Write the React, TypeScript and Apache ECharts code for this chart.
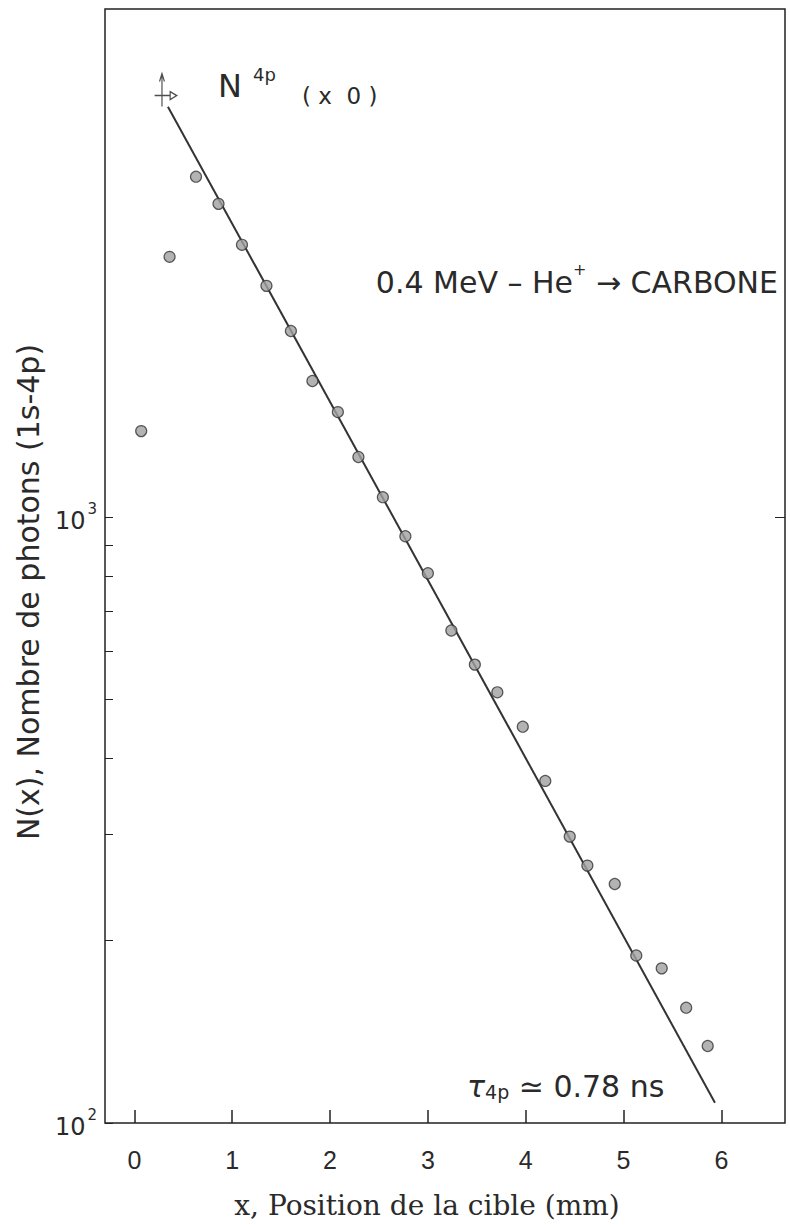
import React, { useEffect, useRef } from "react";
import * as echarts from "echarts";

// x tick values (mm) and y tick values (photon counts)
const xTicks = [0, 1, 2, 3, 4, 5, 6];
const yMajor = [100, 1000];
const yMinor = [200, 300, 400, 500, 600, 700, 800, 900];

// measured points: target position (mm) and photon count
const pointX = [0.07, 0.36, 0.63, 0.86, 1.1, 1.35, 1.6, 1.82, 2.08, 2.29, 2.54, 2.77, 3.0, 3.24, 3.48, 3.71, 3.97, 4.2, 4.45, 4.63, 4.91, 5.13, 5.39, 5.64, 5.86];
const pointY = [1387, 2690, 3648, 3290, 2816, 2409, 2029, 1678, 1491, 1257, 1079, 930, 808, 650, 571, 514, 451, 367, 297, 266, 248, 189, 180, 155, 134];

// fitted exponential decay (straight line on log axis)
const fitX = [0.343, 5.934];
const fitY = [4760, 108];

// N^4p(x0) origin marker
const originX = [0.32];
const originY = [5070];

const FONT = '"DejaVu Sans", sans-serif';
const INK = "#222";
const TXT = "#2a2a2a";

export default function App() {
  const ref = useRef<HTMLDivElement>(null);
  useEffect(() => {
    document.body.style.margin = "0";
    const chart = echarts.init(ref.current!, null, { renderer: "svg" });
    chart.setOption({
      animation: false,
      backgroundColor: "#fff",
      grid: {
        left: 105,
        right: 5,
        top: 9,
        bottom: 102,
        show: true,
        borderColor: INK,
        borderWidth: 1.5,
        backgroundColor: "transparent",
      },
      xAxis: {
        type: "value",
        min: -0.3,
        max: 6.65,
        axisLine: { show: false, onZero: false },
        splitLine: { show: false },
        axisTick: {
          inside: true,
          length: 13,
          customValues: xTicks,
          lineStyle: { color: INK, width: 1.5 },
        },
        axisLabel: {
          customValues: xTicks,
          fontSize: 25,
          fontFamily: '"Liberation Sans", sans-serif',
          color: TXT,
          margin: 24,
        },
      },
      yAxis: [
        {
          type: "log",
          logBase: 10,
          min: 100,
          max: 6900,
          axisLine: { show: false, onZero: false },
          splitLine: { show: false },
          axisTick: {
            inside: true,
            length: 8,
            customValues: [...yMajor, ...yMinor],
            lineStyle: { color: INK, width: 1 },
          },
          axisLabel: {
            customValues: yMajor,
            margin: 8,
            formatter: (v: number) => `{b|10}{s|${Math.round(Math.log10(v))}}`,
            rich: {
              b: { fontSize: 24, fontFamily: FONT, color: TXT, lineHeight: 32, verticalAlign: "bottom" },
              s: { fontSize: 15, fontFamily: FONT, color: TXT, lineHeight: 32, verticalAlign: "top", padding: [0, 0, 0, 2] },
            },
          },
        },
        {
          type: "log",
          logBase: 10,
          min: 100,
          max: 6900,
          position: "right",
          axisLine: { show: false, onZero: false },
          splitLine: { show: false },
          axisLabel: { show: false },
          axisTick: {
            inside: true,
            length: 10,
            customValues: [1000],
            lineStyle: { color: INK, width: 1 },
          },
        },
      ],
      series: [
        {
          type: "line",
          data: fitX.map((x, i) => [x, fitY[i]]),
          showSymbol: false,
          lineStyle: { color: "#333", width: 2 },
          z: 2,
        },
        {
          type: "scatter",
          data: pointX.map((x, i) => [x, pointY[i]]),
          symbol: "circle",
          symbolSize: 11,
          itemStyle: { color: "#a0a0a0", borderColor: "#333", borderWidth: 1.2 },
          z: 3,
        },
        {
          type: "scatter",
          data: originX.map((x, i) => [x, originY[i]]),
          symbol:
            "path://M0,-22 L0,11 M-9,0 L10,0 M10,-4 L18,0 L10,4 Z M-3,-14 L0,-22 L3,-14",
          symbolSize: [27, 33],
          symbolKeepAspect: true,
          itemStyle: { color: "transparent", borderColor: INK, borderWidth: 1.3 },
          z: 4,
        },
      ],
      graphic: [
        {
          type: "text",
          x: 218,
          y: 86,
          style: { text: "N", font: `32px ${FONT}`, fill: TXT, align: "left", verticalAlign: "middle" },
        },
        {
          type: "text",
          x: 253,
          y: 74,
          style: { text: "4p", font: `18px ${FONT}`, fill: TXT, align: "left", verticalAlign: "middle" },
        },
        {
          type: "text",
          x: 302,
          y: 96,
          style: { text: "( x  0 )", font: `23px ${FONT}`, fill: TXT, align: "left", verticalAlign: "middle" },
        },
        {
          type: "text",
          x: 778,
          y: 279,
          style: {
            text: "{m|0.4 MeV – He}{s|+}{m| → CARBONE}",
            align: "right",
            verticalAlign: "middle",
            rich: {
              m: { font: `30px ${FONT}`, fill: TXT, lineHeight: 36, verticalAlign: "bottom" },
              s: { font: `16px ${FONT}`, fill: TXT, lineHeight: 36, verticalAlign: "top" },
            },
          },
        },
        {
          type: "text",
          x: 467,
          y: 1083,
          style: {
            text: "{t|τ}{s|4p}{m| ≃ 0.78 ns}",
            align: "left",
            verticalAlign: "middle",
            rich: {
              t: { font: `italic 30px ${FONT}`, fill: TXT, lineHeight: 36, verticalAlign: "bottom" },
              s: { font: `19px ${FONT}`, fill: TXT, lineHeight: 26, verticalAlign: "bottom" },
              m: { font: `30px ${FONT}`, fill: TXT, lineHeight: 36, verticalAlign: "bottom" },
            },
          },
        },
        {
          type: "text",
          x: 28,
          y: 592,
          rotation: Math.PI / 2,
          style: {
            text: "N(x), Nombre de photons (1s-4p)",
            font: `30px ${FONT}`,
            fill: TXT,
            align: "center",
            verticalAlign: "middle",
          },
        },
        {
          type: "text",
          x: 427,
          y: 1205,
          style: {
            text: "x, Position de la cible (mm)",
            font: '28px "DejaVu Serif", serif',
            fill: TXT,
            align: "center",
            verticalAlign: "middle",
          },
        },
      ],
    });
    return () => chart.dispose();
  }, []);
  return <div ref={ref} style={{ width: 790, height: 1225 }} />;
}
